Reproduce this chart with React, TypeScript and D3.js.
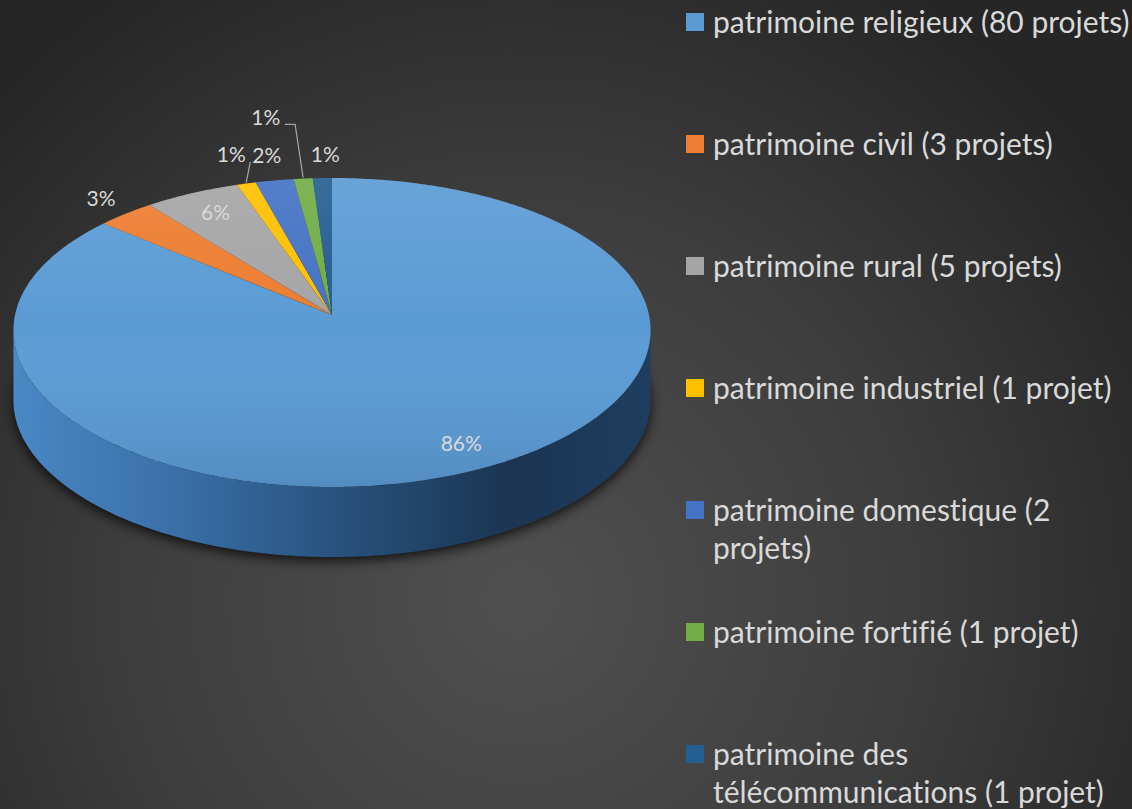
import React from "react";
import * as d3 from "d3";

// ---- data ----
const categories = [
  "patrimoine religieux",
  "patrimoine civil",
  "patrimoine rural",
  "patrimoine industriel",
  "patrimoine domestique",
  "patrimoine fortifié",
  "patrimoine des télécommunications",
];
const values = [80, 3, 5, 1, 2, 1, 1];
const percentLabels = ["86%", "3%", "6%", "1%", "2%", "1%", "1%"];
const legendLines = [
  ["patrimoine religieux (80 projets)"],
  ["patrimoine civil (3 projets)"],
  ["patrimoine rural (5 projets)"],
  ["patrimoine industriel (1 projet)"],
  ["patrimoine domestique (2", "projets)"],
  ["patrimoine fortifié (1 projet)"],
  ["patrimoine des", "télécommunications (1 projet)"],
];
const colors = ["#5B9BD5", "#ED7D31", "#A5A5A5", "#FFC000", "#4472C4", "#70AD47", "#255E91"];

// label placement (style / layout)
const labelInside = [true, false, true, false, false, false, false];
const labelNudge: [number, number][] = [[9, 2], [0, -3], [2, 0], [-5, -14], [-1, -10], [-34, -46], [4, -8]];
const labelLeader = [false, false, false, true, false, true, false];

const W = 1132;
const H = 809;
const CX = 332;
const CY = 315;
const R = 317;
const A = 154.5;
const B = 17.5;
const K = 0.1;
const DEPTH = 70;

function proj(f: number, theta: number): [number, number] {
  const u = f * Math.sin(theta);
  const v = -f * Math.cos(theta);
  return [CX + R * u * (1 + K * v), CY + A * v + B * v * v];
}

export default function App() {
  const pie = d3.pie<number>().sort(null).startAngle(0).endAngle(Math.PI * 2);
  const arcs = pie(values);
  const line = d3.line<[number, number]>();

  const slicePaths = arcs.map((a) => {
    const n = Math.max(4, Math.ceil(((a.endAngle - a.startAngle) * 180) / Math.PI / 0.5));
    const pts: [number, number][] = [[CX, CY]];
    for (let i = 0; i <= n; i++) {
      const t = a.startAngle + ((a.endAngle - a.startAngle) * i) / n;
      pts.push(proj(1, t));
    }
    return line(pts) + "Z";
  });

  const full: { t: number; p: [number, number] }[] = d3.range(0, 721).map((i) => {
    const t = (i / 720) * Math.PI * 2;
    return { t, p: proj(1, t) };
  });
  const right = full.reduce((m, d) => (d.p[0] > m.p[0] ? d : m));
  const left = full.reduce((m, d) => (d.p[0] < m.p[0] ? d : m));
  const front = full.filter((d) => d.t >= right.t && d.t <= left.t).map((d) => d.p);
  const sidePts: [number, number][] = [
    ...front,
    ...front.slice().reverse().map((p) => [p[0], p[1] + DEPTH] as [number, number]),
  ];
  const sidePath = line(sidePts) + "Z";
  const topOutline = line(full.map((d) => d.p)) + "Z";
  const shadowPath = line(full.map((d) => [d.p[0], d.p[1] + DEPTH] as [number, number])) + "Z";

  const labels = arcs.map((a, i) => {
    const mid = (a.startAngle + a.endAngle) / 2;
    const f = labelInside[i] ? 0.83 : 1.13;
    const p = proj(f, mid);
    const x = p[0] + labelNudge[i][0];
    const y = p[1] + labelNudge[i][1];
    const edge = proj(1, mid);
    let leader: string | null = null;
    if (labelLeader[i]) {
      const sx = x + 19;
      const sy = y + 7;
      const pts: [number, number][] = [[sx, sy]];
      if (edge[0] - 8 > sx) pts.push([edge[0] - 8, sy]);
      pts.push([edge[0], edge[1] - 1]);
      leader = line(pts);
    }
    return { x, y, text: percentLabels[i], leader };
  });

  const legendX = 686;
  const legendY0 = 22;
  const legendStep = 122;
  const sq = 18;

  return (
    <div style={{ position: "absolute", left: 0, top: 0, width: W, height: H }}>
      <svg
        width={W}
        height={H}
        style={{ display: "block", fontVariantLigatures: "none" }}
        fontFamily="Lato, 'Open Sans', sans-serif"
      >
        <defs>
          <radialGradient id="bg" gradientUnits="userSpaceOnUse" cx={520} cy={600} r={720}>
            <stop offset="0" stopColor="#505050" />
            <stop offset="0.55" stopColor="#3d3d3d" />
            <stop offset="1" stopColor="#262626" />
          </radialGradient>
          <linearGradient id="side" gradientUnits="userSpaceOnUse" x1={CX - R} x2={CX + R} y1={0} y2={0}>
            <stop offset="0" stopColor="#4a87c5" />
            <stop offset="0.25" stopColor="#3a70a8" />
            <stop offset="0.5" stopColor="#28537f" />
            <stop offset="0.78" stopColor="#1b3552" />
            <stop offset="1" stopColor="#1f3d5e" />
          </linearGradient>
          <linearGradient id="topShade" gradientUnits="userSpaceOnUse" x1={0} x2={0} y1={CY - A} y2={CY + A + B}>
            <stop offset="0" stopColor="#ffffff" stopOpacity={0.1} />
            <stop offset="0.5" stopColor="#ffffff" stopOpacity={0} />
            <stop offset="1" stopColor="#000000" stopOpacity={0.1} />
          </linearGradient>
          <filter id="blur" x="-20%" y="-20%" width="140%" height="140%">
            <feGaussianBlur stdDeviation={6} />
          </filter>
        </defs>
        <rect x={0} y={0} width={W} height={H} fill="url(#bg)" />
        <path d={shadowPath} transform="translate(0,4)" fill="#000" opacity={0.75} filter="url(#blur)" />
        <path d={sidePath} fill="url(#side)" />
        {slicePaths.map((d, i) => (
          <path key={categories[i]} d={d} fill={colors[i]} />
        ))}
        <path d={topOutline} fill="url(#topShade)" />
        {labels.map((l, i) => (
          <g key={"lab" + i}>
            {l.leader && <path d={l.leader} fill="none" stroke="#a6a6a6" strokeWidth={1.2} />}
            <text x={l.x} y={l.y} dy="0.36em" textAnchor="middle" fontSize={21} fill="#d9d9d9">
              {l.text}
            </text>
          </g>
        ))}
        {legendLines.map((lines, i) => {
          const y = legendY0 + i * legendStep;
          return (
            <g key={"leg" + i}>
              <rect x={legendX} y={y - sq / 2} width={sq} height={sq} fill={colors[i]} />
              {lines.map((t, j) => (
                <text key={j} x={legendX + 27} y={y + j * 38} dy="0.36em" fontSize={30} fill="#d9d9d9">
                  {t}
                </text>
              ))}
            </g>
          );
        })}
      </svg>
    </div>
  );
}
